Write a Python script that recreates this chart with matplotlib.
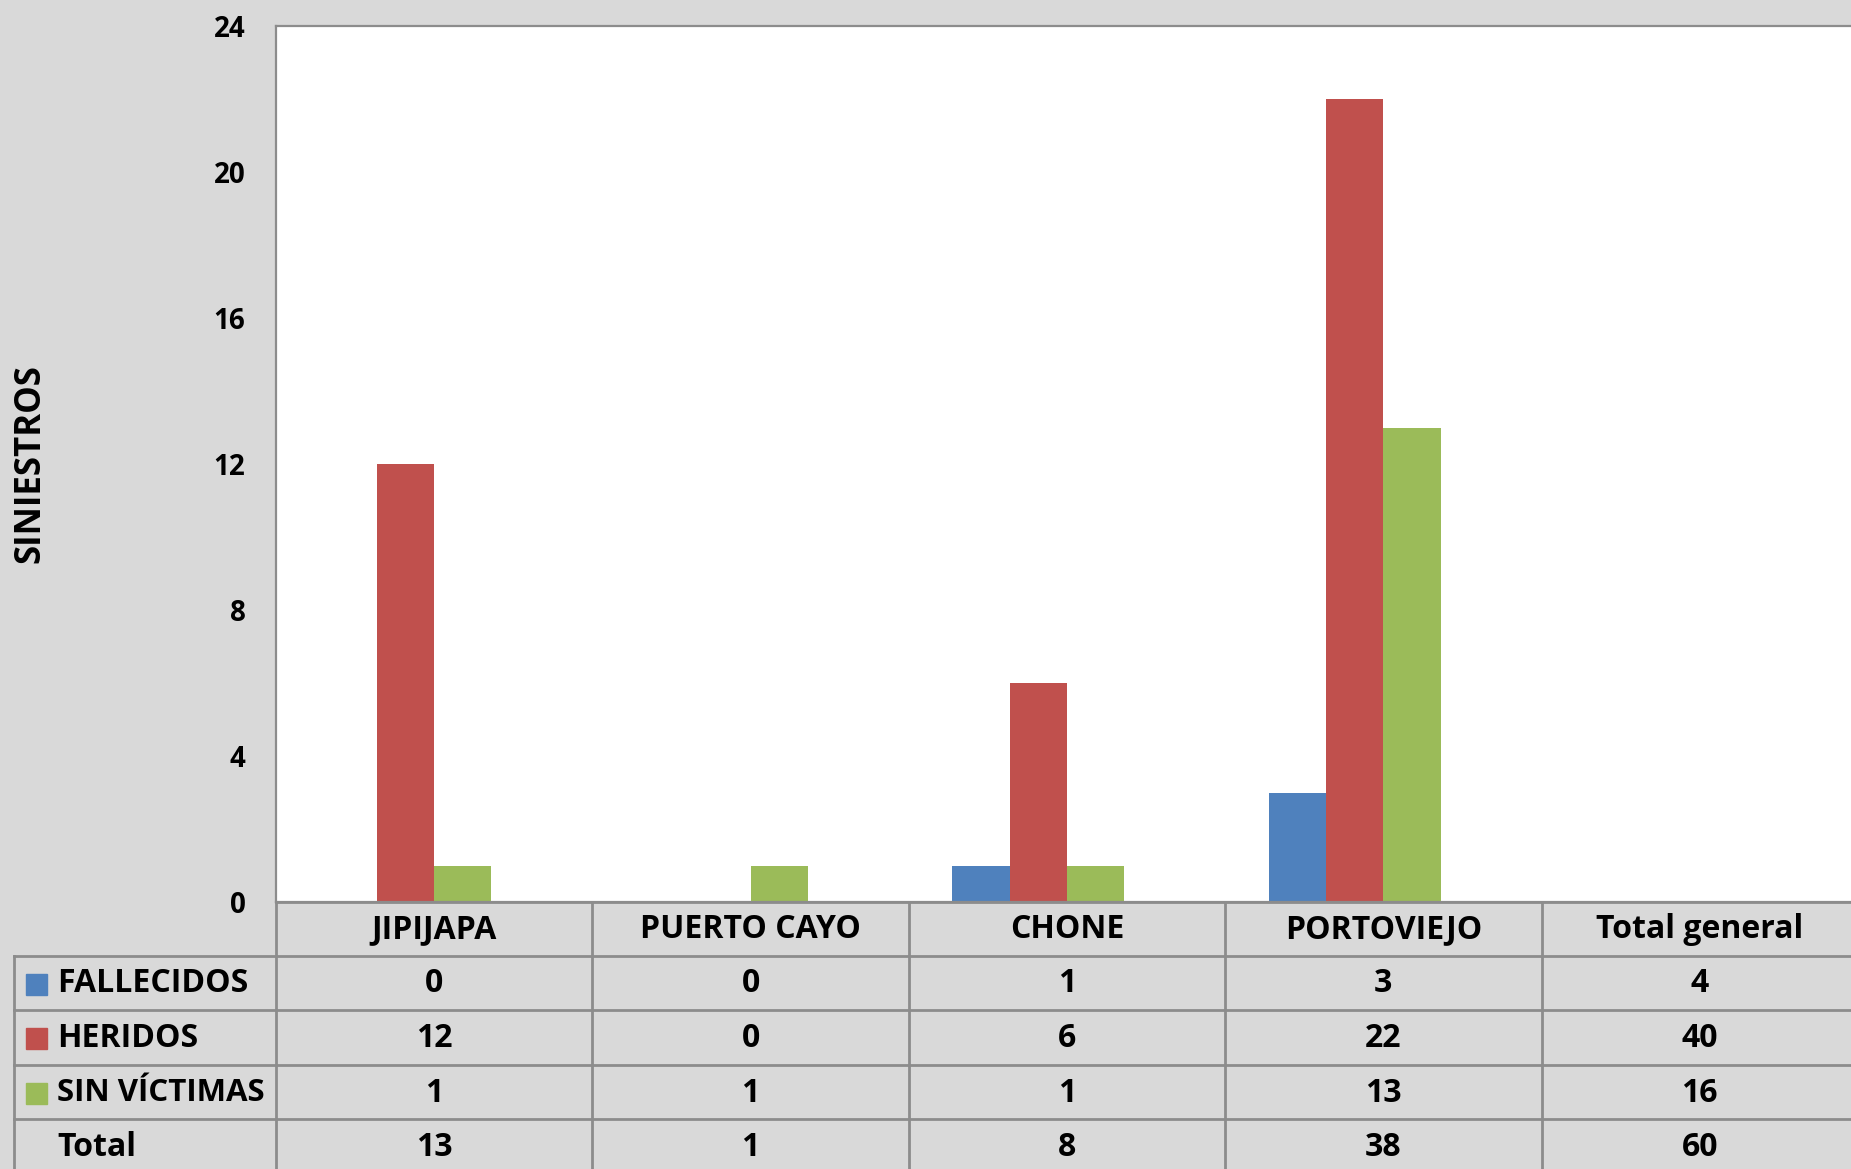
import matplotlib
matplotlib.use("Agg")
import matplotlib.pyplot as plt
from matplotlib.patches import Rectangle

categories = ["JIPIJAPA", "PUERTO CAYO", "CHONE", "PORTOVIEJO", "Total general"]
series_names = ["FALLECIDOS", "HERIDOS", "SIN VÍCTIMAS"]
fallecidos = [0, 0, 1, 3, 4]
heridos = [12, 0, 6, 22, 40]
sin_victimas = [1, 1, 1, 13, 16]
totals = [13, 1, 8, 38, 60]
colors = ["#4F81BD", "#C0504D", "#9BBB59"]
y_ticks = [0, 4, 8, 12, 16, 20, 24]

plt.rcParams["font.family"] = ["Open Sans", "DejaVu Sans"]
plt.rcParams["font.weight"] = "bold"

W, H = 1851, 1169
BG = "#D9D9D9"
GRID = "#8C8C8C"

fig = plt.figure(figsize=(W / 100, H / 100), dpi=100, facecolor=BG)
col_w = 316.4
ax = fig.add_axes([276 / W, (H - 902) / H, 5 * col_w / W, 876 / H])
ax.set_facecolor("white")

series = [fallecidos, heridos, sin_victimas]
bar_w = 0.181
n_bars = 4  # a hidden "Total" series keeps the 4th slot
for i, (name, vals, c) in enumerate(zip(series_names, series, colors)):
    off = (i - (n_bars - 1) / 2) * bar_w
    xs = [k + off for k in range(4)]
    ax.bar(xs, vals[:4], width=bar_w, color=c, label=name, zorder=2)

ax.set_xlim(-0.5, 4.5)
ax.set_ylim(0, 24)
ax.set_yticks(y_ticks)
ax.set_yticklabels([str(t) for t in y_ticks], fontsize=20, fontweight="bold")
ax.tick_params(axis="y", length=0, pad=22)
ax.set_xticks([])
for side in ["left", "top", "bottom", "right"]:
    ax.spines[side].set_color(GRID)
    ax.spines[side].set_linewidth(1.6)

fig.text(30 / W, 1 - 464 / H, "SINIESTROS", rotation=90, ha="center", va="center",
         fontsize=25, fontweight="bold")

# data table below the plot (pixel coordinates)
def fx(px):
    return px / W


def fy(py):
    return 1 - py / H


row_edges = [902, 956, 1010, 1065, 1119, 1173]
col_edges = [276 + k * col_w for k in range(6)]
lw = 2.0
for k, y in enumerate(row_edges):
    x0 = 276 if k == 0 else 14
    fig.add_artist(plt.Line2D([fx(x0), fx(W + 10)], [fy(y), fy(y)], color=GRID, lw=lw))
for x in col_edges:
    fig.add_artist(plt.Line2D([fx(x), fx(x)], [fy(902), fy(1180)], color=GRID, lw=lw))
fig.add_artist(plt.Line2D([fx(14), fx(14)], [fy(956), fy(1180)], color=GRID, lw=lw))

fs = 23
for k, cat in enumerate(categories):
    cx = col_edges[k] + col_w / 2
    fig.text(fx(cx), fy((902 + 956) / 2 + 1), cat, ha="center", va="center", fontsize=fs, fontweight="bold")

rows = series + [totals]
labels = series_names + ["Total"]
for r, (lab, vals) in enumerate(zip(labels, rows)):
    cy = (row_edges[r + 1] + row_edges[r + 2]) / 2 + 1
    if r < 3:
        sw, sh = 21, 21
        fig.add_artist(Rectangle((fx(26), fy(cy + sh / 2)), sw / W, sh / H, color=colors[r],
                                 transform=fig.transFigure))
    fig.text(fx(57), fy(cy), lab, ha="left", va="center", fontsize=fs if r != 2 else 22.5,
             fontweight="bold")
    for k, v in enumerate(vals):
        cx = col_edges[k] + col_w / 2
        fig.text(fx(cx), fy(cy), str(v), ha="center", va="center", fontsize=fs, fontweight="bold")

fig.savefig("out.png", dpi=100, facecolor=BG)
